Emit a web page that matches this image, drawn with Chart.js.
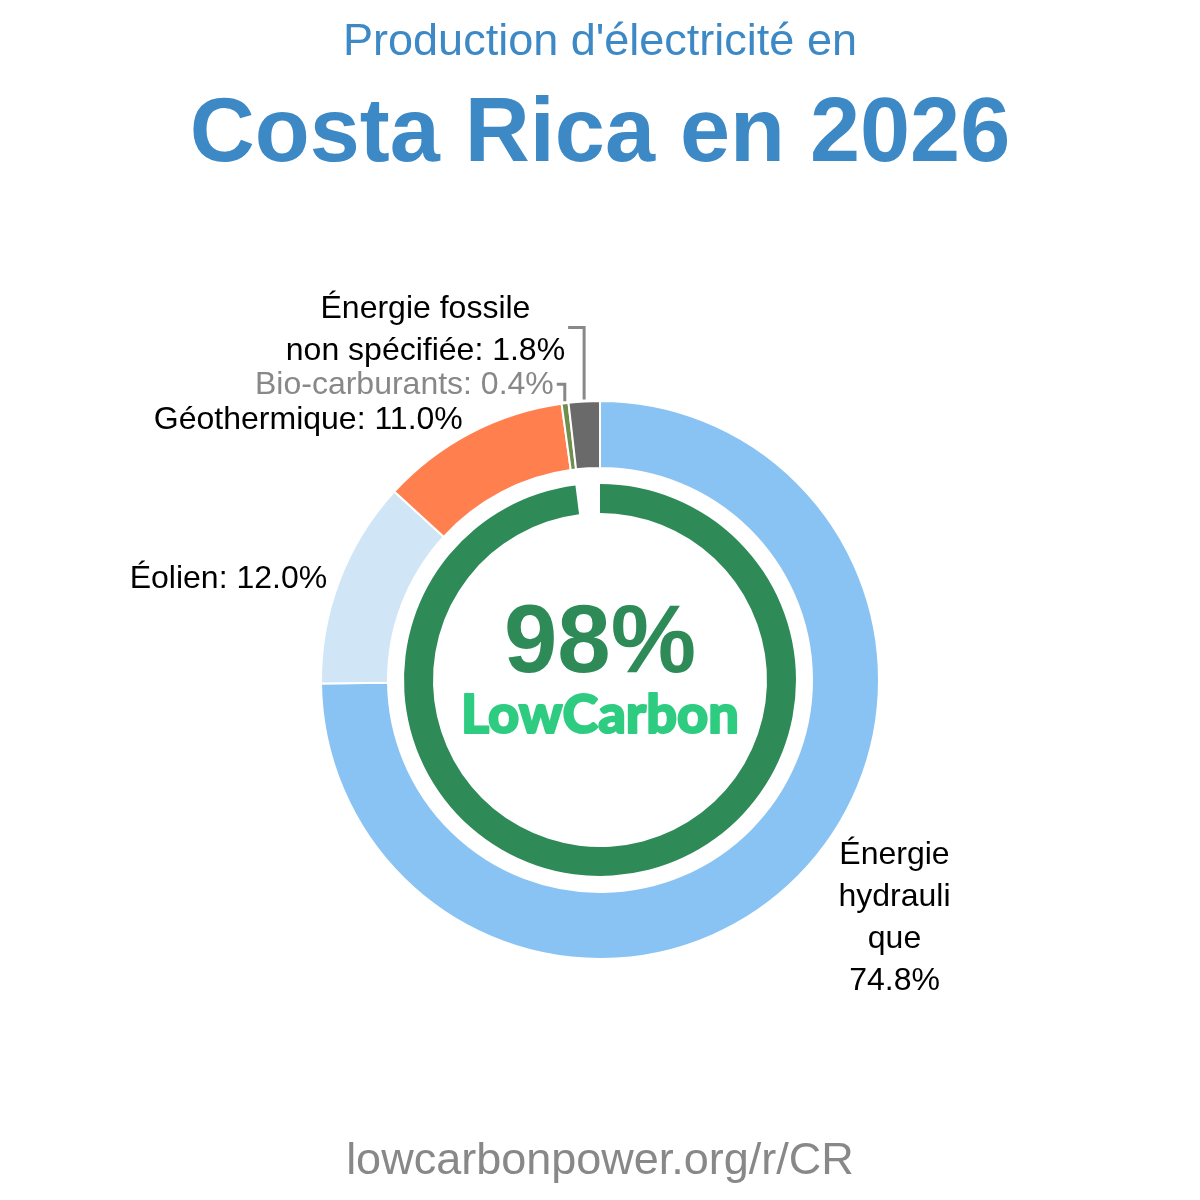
<!DOCTYPE html>
<html>
<head>
<meta charset="utf-8">
<script src="https://cdn.jsdelivr.net/npm/chart.js@4.4.1/dist/chart.umd.min.js"></script>
<style>
body { margin: 0; background: #fff; font-family: "Liberation Sans", Arial, sans-serif; }
#wrap { position: relative; width: 1200px; height: 1200px; }
.t { position: absolute; left: 0; width: 1200px; text-align: center; white-space: nowrap; }
#sub { top: 17px; font-size: 45px; line-height: 45px; color: #3d89c5; }
#title { top: 85px; font-size: 90px; line-height: 90px; font-weight: bold; color: #3d89c5; }
#foot { top: 1136px; font-size: 45px; line-height: 45px; color: #888; }
canvas { position: absolute; left: 0; top: 0; }
</style>
</head>
<body>
<div id="wrap">
  <canvas id="chart" width="1200" height="1200"></canvas>
  <div class="t" id="sub">Production d'électricité en</div>
  <div class="t" id="title">Costa Rica en 2026</div>
  <div class="t" id="foot">lowcarbonpower.org/r/CR</div>
</div>
<script>
// donnees
let categories = ["Énergie hydraulique", "Éolien", "Géothermique", "Bio-carburants", "Énergie fossile non spécifiée"];
let shares = [74.8, 12.0, 11.0, 0.4, 1.8];
let labelLines = [
    ["Énergie", "hydrauli", "que", "74.8%"],
    ["Éolien: 12.0%"],
    ["Géothermique: 11.0%"],
    ["Bio-carburants: 0.4%"],
    ["Énergie fossile", "non spécifiée: 1.8%"]
];
let lowCarbonShare = 98;

let colors = ["#89c3f3", "#d0e6f7", "#ff7f4f", "#6f8f4f", "#6a6a6a"];

// placement des etiquettes (pas des donnees)
let labelPlace = [
    { kind: "block", dx: 96, dy: -21 },
    { kind: "right", pad: 13, dy: 3 },
    { kind: "right", pad: 16, dy: 1 },
    { kind: "leader", up: 17, left: 8, color: "#888", shift: 1 },
    { kind: "leader", up: 72, left: 16, color: "#000", shift: 3 }
];

const FONT = '"Liberation Sans", Arial, sans-serif';

const labelsPlugin = {
    id: "labels",
    afterDatasetsDraw(chart) {
        let ctx = chart.ctx;
        let arcs = chart.getDatasetMeta(0).data;
        ctx.save();
        ctx.font = "32px " + FONT;
        ctx.textBaseline = "middle";

        arcs.forEach((arc, i) => {
            let p = arc.getProps(["x", "y", "startAngle", "endAngle", "outerRadius"], true);
            let mid = (p.startAngle + p.endAngle) / 2;
            let place = labelPlace[i];
            let lines = labelLines[i];
            ctx.fillStyle = place.color || "#000";

            if (place.kind === "block") {
                let ax = p.x + Math.cos(mid) * p.outerRadius + place.dx;
                let ay = p.y + Math.sin(mid) * p.outerRadius + place.dy;
                ctx.textAlign = "center";
                lines.forEach((l, k) => ctx.fillText(l, ax, ay + k * 42));
            } else if (place.kind === "right") {
                let r = p.outerRadius + place.pad;
                ctx.textAlign = "right";
                ctx.fillText(lines[0], p.x + Math.cos(mid) * r, p.y + Math.sin(mid) * r + place.dy);
            } else {
                // trait de rappel pour les petites parts
                let r = p.outerRadius + 2;
                let x0 = p.x + Math.cos(mid) * r;
                let y0 = p.y + Math.sin(mid) * r;
                let y1 = y0 - place.up;
                let x1 = x0 - place.left;
                ctx.strokeStyle = "#888";
                ctx.lineWidth = 3;
                ctx.beginPath();
                ctx.moveTo(x0, y0);
                ctx.lineTo(x0, y1);
                ctx.lineTo(x1, y1);
                ctx.stroke();

                let w = Math.max(...lines.map(l => ctx.measureText(l).width));
                let cx = x1 - 3 - w / 2;
                let top = y1 - (lines.length - 1) * 21 + place.shift;
                ctx.textAlign = "center";
                lines.forEach((l, k) => ctx.fillText(l, cx, top + k * 42));
            }
        });

        // texte central
        let c = arcs[0];
        ctx.textAlign = "center";
        ctx.textBaseline = "alphabetic";
        ctx.fillStyle = "#2e8b57";
        ctx.font = "bold 96px " + FONT;
        ctx.fillText(lowCarbonShare + "%", c.x, c.y - 8);

        ctx.font = '900 56px Lato, "Liberation Sans", sans-serif';
        let lw = ctx.measureText("LowCarbon").width;
        let size = 56 * 278 / lw;
        ctx.font = '900 ' + size + 'px Lato, "Liberation Sans", sans-serif';
        ctx.fillStyle = "#2ecc80";
        ctx.strokeStyle = "#2ecc80";
        ctx.lineWidth = 2;
        ctx.lineJoin = "round";
        ctx.strokeText("LowCarbon", c.x, c.y + 53);
        ctx.fillText("LowCarbon", c.x, c.y + 53);
        ctx.restore();
    }
};

let ctx = document.getElementById("chart").getContext("2d");
let chart = new Chart(ctx, {
    type: "doughnut",
    data: {
        labels: categories,
        datasets: [
            {
                data: shares,
                backgroundColor: colors,
                borderColor: "#fff",
                borderWidth: 2,
                weight: 67
            },
            {
                data: [1],
                backgroundColor: "rgba(0,0,0,0)",
                borderWidth: 0,
                weight: 16
            },
            {
                data: [lowCarbonShare, 100 - lowCarbonShare],
                backgroundColor: ["#2e8b57", "rgba(0,0,0,0)"],
                borderWidth: 0,
                weight: 29
            }
        ]
    },
    options: {
        responsive: false,
        animation: false,
        devicePixelRatio: 1,
        radius: 279,
        cutout: (167 / 279 * 100) + "%",
        layout: { padding: { top: 320, bottom: 160, left: 0, right: 0 } },
        plugins: {
            legend: { display: false },
            tooltip: { enabled: false }
        }
    },
    plugins: [labelsPlugin]
});
</script>
</body>
</html>
